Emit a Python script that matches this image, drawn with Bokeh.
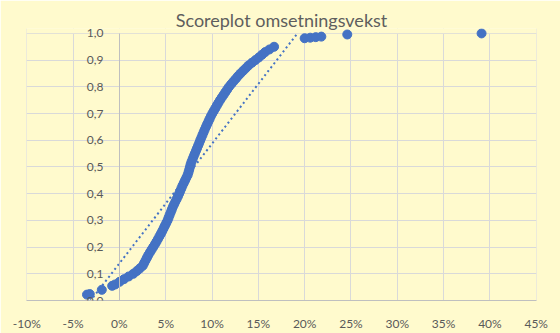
from bokeh.plotting import figure
from bokeh.models import Range1d, FixedTicker, CustomJSTickFormatter, NumeralTickFormatter, ColumnDataSource, BoxAnnotation
from bokeh.embed import file_html
from bokeh.resources import INLINE

# growth values (fraction) and score (cumulative share)
growth = [-0.035, -0.032, -0.019, -0.0078, -0.0046, 0.0002, 0.005, 0.010, 0.015, 0.0187, 0.022,
          0.0252, 0.0267, 0.0282, 0.0297, 0.0312, 0.0329, 0.0347, 0.0365,
          0.0383, 0.040, 0.0416, 0.0432, 0.0448, 0.0463, 0.0477, 0.0491, 0.0506, 0.052,
          0.0531, 0.0542, 0.0554, 0.0565, 0.0576, 0.059, 0.0604, 0.0618, 0.0632,
          0.0645, 0.0657, 0.0669, 0.0681, 0.0695, 0.0709, 0.0723, 0.0737,
          0.0746, 0.0754, 0.0762, 0.0769, 0.0779, 0.0791, 0.0802, 0.0814, 0.0826, 0.0838,
          0.085, 0.0862, 0.0873, 0.0885, 0.0897, 0.0909, 0.0921, 0.0934, 0.0947, 0.0961,
          0.0974, 0.0987, 0.1003, 0.1019, 0.1036, 0.1052, 0.1069, 0.1086, 0.1105, 0.1125,
          0.1144, 0.1164, 0.1183, 0.1207, 0.1231, 0.1256, 0.128, 0.1307, 0.1336, 0.1365,
          0.1394, 0.143, 0.1468, 0.1505, 0.1539, 0.1573, 0.162, 0.167,
          0.200, 0.206, 0.212, 0.218, 0.246, 0.391]
score = [0.022, 0.024, 0.040, 0.055, 0.06, 0.07, 0.08, 0.09, 0.10, 0.11, 0.12,
         0.13, 0.14, 0.15, 0.16, 0.17, 0.18, 0.19, 0.20,
         0.21, 0.22, 0.23, 0.24, 0.25, 0.26, 0.27, 0.28, 0.29, 0.30,
         0.31, 0.32, 0.33, 0.34, 0.35, 0.36, 0.37, 0.38, 0.39,
         0.40, 0.41, 0.42, 0.43, 0.44, 0.45, 0.46, 0.47,
         0.48, 0.49, 0.50, 0.51, 0.52, 0.53, 0.54, 0.55, 0.56, 0.57,
         0.58, 0.59, 0.60, 0.61, 0.62, 0.63, 0.64, 0.65, 0.66, 0.67,
         0.68, 0.69, 0.70, 0.71, 0.72, 0.73, 0.74, 0.75, 0.76, 0.77,
         0.78, 0.79, 0.80, 0.81, 0.82, 0.83, 0.84, 0.85, 0.86, 0.87,
         0.88, 0.89, 0.90, 0.91, 0.92, 0.93, 0.94, 0.95,
         0.982, 0.984, 0.986, 0.988, 0.996, 1.0]

# linear trendline
trend_intercept = 0.139
trend_slope = 4.48

x_ticks = [-0.10, -0.05, 0.0, 0.05, 0.10, 0.15, 0.20, 0.25, 0.30, 0.35, 0.40, 0.45]
y_ticks = [0.0, 0.1, 0.2, 0.3, 0.4, 0.5, 0.6, 0.7, 0.8, 0.9, 1.0]
title_text = "Scoreplot omsetningsvekst"

BG = "#FFFACD"
BLUE = "#4472C4"
GRID = "#D9D9D9"
TXT = "#595959"

# frame: y 0..1.0 spans 272 px; a little headroom so top markers are not cut
p = figure(width=560, height=333, output_backend="svg", toolbar_location=None,
           x_range=Range1d(-0.1003, 0.4503), y_range=Range1d(0.0, 1.0184),
           min_border_left=26, min_border_right=24, min_border_top=28, min_border_bottom=28)
p.background_fill_color = BG
p.border_fill_color = BG
p.outline_line_color = None

p.title.text = title_text
p.title.align = "center"
p.title.text_font = "Lato"
p.title.text_font_size = "18px"
p.title.text_font_style = "normal"
p.title.text_color = "#5E5E5E"
p.title.standoff = -4

p.xaxis.ticker = FixedTicker(ticks=x_ticks)
p.yaxis.ticker = FixedTicker(ticks=y_ticks)
p.xaxis.formatter = NumeralTickFormatter(format="0%")
p.yaxis.formatter = CustomJSTickFormatter(code="return tick.toFixed(1).replace('.', ',');")
p.yaxis.fixed_location = 0.0
p.yaxis.bounds = (0.0, 1.0)

for ax in (p.xaxis, p.yaxis):
    ax.major_tick_line_color = None
    ax.minor_tick_line_color = None
    ax.axis_line_color = "#BFBFBF"
    ax.major_label_text_color = TXT
    ax.major_label_text_font = "Lato"
    ax.major_label_text_font_size = "12px"
p.xaxis.major_label_standoff = 9
p.yaxis.major_label_standoff = 10

p.xgrid.ticker = FixedTicker(ticks=x_ticks)
p.ygrid.ticker = FixedTicker(ticks=y_ticks)
p.grid.grid_line_color = GRID
p.grid.grid_line_width = 1

# hide grid above the 1,0 line (headroom strip)
p.add_layout(BoxAnnotation(bottom=1.0005, fill_color=BG, fill_alpha=1.0, line_color=None, level="underlay"))

src = ColumnDataSource(dict(x=growth, y=score))
p.scatter("x", "y", source=src, size=9, fill_color=BLUE, line_color=BLUE)

tx = [min(growth), max(growth)]
ty = [min(trend_intercept + trend_slope * v, 1.0) for v in tx]
tx[1] = (ty[1] - trend_intercept) / trend_slope
p.line(tx, ty, line_color=BLUE, line_width=2, line_dash="2 3")

open("out.html", "w").write(file_html(p, INLINE))
